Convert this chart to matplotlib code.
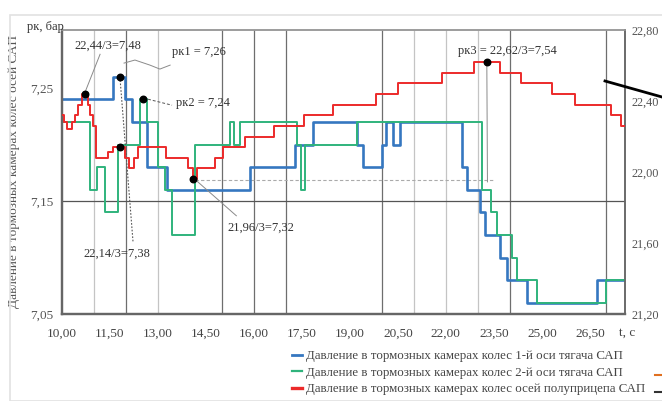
import matplotlib
matplotlib.use("Agg")
import matplotlib.pyplot as plt
from matplotlib.lines import Line2D
from matplotlib.patches import Rectangle

plt.rcParams['font.family'] = ['Liberation Serif', 'DejaVu Serif']

# ---------------- data ----------------
# time, s (step start points) and pressure
blue_t = [10.00, 11.60, 11.97, 12.19, 12.66, 13.28, 15.88, 17.28, 17.84, 19.22, 19.41,
          20.00, 20.12, 20.34, 20.56, 22.50, 22.66, 23.06, 23.22, 23.69, 23.91, 24.53,
          26.72, 27.60]
blue_p = [7.24, 7.26, 7.24, 7.22, 7.18, 7.16, 7.18, 7.20, 7.22, 7.20, 7.18,
          7.20, 7.22, 7.20, 7.22, 7.18, 7.16, 7.14, 7.12, 7.10, 7.08, 7.06,
          7.08, 7.08]

green_t = [10.00, 10.88, 11.09, 11.34, 11.75, 12.44, 12.66, 13.00, 13.22, 13.44, 14.16,
           15.25, 15.38, 15.56, 17.34, 17.47, 17.60, 19.22, 23.13, 23.41, 23.59, 24.06,
           24.22, 24.84, 27.00, 27.60]
green_p = [7.22, 7.16, 7.18, 7.14, 7.20, 7.24, 7.22, 7.18, 7.16, 7.12, 7.20,
           7.22, 7.20, 7.22, 7.20, 7.16, 7.20, 7.22, 7.16, 7.14, 7.12, 7.10,
           7.08, 7.06, 7.08, 7.08]

red_t = [10.00, 10.06, 10.16, 10.31, 10.41, 10.50, 10.63, 10.81, 10.88, 10.97, 11.06,
         11.44, 11.59, 11.97, 12.09, 12.25, 12.38, 13.25, 13.94, 14.09, 14.22, 14.78,
         15.03, 15.72, 16.63, 17.56, 18.47, 19.81, 20.50, 21.88, 22.88, 23.69, 24.34,
         25.31, 26.03, 27.16, 27.47, 27.60]
red_p = [22.32, 22.28, 22.24, 22.28, 22.32, 22.38, 22.44, 22.38, 22.32, 22.26, 22.08,
         22.11, 22.14, 22.08, 22.02, 22.08, 22.14, 22.08, 22.02, 21.96, 22.02, 22.08,
         22.14, 22.20, 22.26, 22.32, 22.38, 22.44, 22.50, 22.56, 22.62, 22.56, 22.50,
         22.44, 22.38, 22.32, 22.26, 22.26]

# marked points
left_dot_t = [11.81, 12.53]
left_dot_p = [7.26, 7.24]
red_dot_t = [10.72, 11.81, 14.09, 23.28]
red_dot_p = [22.44, 22.14, 21.96, 22.62]

x_ticks = [10.0, 11.5, 13.0, 14.5, 16.0, 17.5, 19.0, 20.5, 22.0, 23.5, 25.0, 26.5]
x_tick_labels = ["10,00", "11,50", "13,00", "14,50", "16,00", "17,50", "19,00",
                 "20,50", "22,00", "23,50", "25,00", "26,50"]
left_ticks = [7.05, 7.15, 7.25]
left_tick_labels = ["7,05", "7,15", "7,25"]
right_ticks = [21.2, 21.6, 22.0, 22.4, 22.8]
right_tick_labels = ["21,20", "21,60", "22,00", "22,40", "22,80"]
grid_dark = [12, 15, 16, 17, 20, 24, 27]
grid_light = [11, 13, 21, 22, 23]

labels = ["Давление в тормозных камерах колес 1-й оси тягача САП",
          "Давление в тормозных камерах колес 2-й оси тягача САП",
          "Давление в тормозных камерах колес осей полуприцепа САП"]

c_blue = '#3577c0'
c_green = '#2fb37c'
c_red = '#ec2a2a'
txt = '#333333'

# ---------------- figure ----------------
W, H = 662, 401
fig = plt.figure(figsize=(W / 100, H / 100), dpi=100)
fig.patch.set_facecolor('white')
fig.add_artist(Rectangle((10 / W, 0), 1.2, 1 - 15 / H, transform=fig.transFigure,
                         fill=False, ec='#e2e2e2', lw=1.2))

ax = fig.add_axes([62 / W, 1 - 314 / H, (625 - 62) / W, (314 - 30) / H])
ax.set_xlim(10, 27.6)
ax.set_ylim(7.05, 7.3015)
ax2 = ax.twinx()
ax2.set_ylim(21.2, 22.8)

for g in grid_dark:
    ax.axvline(g, color='#6e6e6e', lw=0.9, zorder=0)
for g in grid_light:
    ax.axvline(g, color='#c4c4c4', lw=0.9, zorder=0)
ax.axhline(7.15, color='#555555', lw=0.9, zorder=0)

ax.plot(green_t, green_p, drawstyle='steps-post', color=c_green, lw=1.4, zorder=3)
ax.plot(blue_t, blue_p, drawstyle='steps-post', color=c_blue, lw=1.9, zorder=2)
ax2.plot(red_t, red_p, drawstyle='steps-post', color=c_red, lw=1.4, zorder=3)

ax.scatter(left_dot_t, left_dot_p, s=22, color='black', zorder=6)
ax2.scatter(red_dot_t, red_dot_p, s=22, color='black', zorder=6)

# ticks
ax.set_xticks(x_ticks)
ax.set_xticklabels(x_tick_labels)
ax.set_yticks(left_ticks)
ax.set_yticklabels(left_tick_labels)
ax2.set_yticks(right_ticks)
ax2.set_yticklabels(right_tick_labels)
ax.tick_params(axis='x', length=0, pad=10, labelsize=9.5, labelcolor='#444444')
ax.tick_params(axis='y', length=0, pad=6, labelsize=9.5, labelcolor='#555555')
ax2.tick_params(axis='y', length=0, pad=5, labelsize=8.8, labelcolor='#555555')

for a in (ax, ax2):
    for s in a.spines.values():
        s.set_color('#666666')
        s.set_linewidth(1.1)
    a.spines['left'].set_linewidth(1.6)
    a.spines['bottom'].set_linewidth(1.6)
    a.spines['top'].set_color('#999999')

ax.set_ylabel("Давление в тормозных камерах колес осей САП", fontsize=9.6,
              color='#555555')
ax.yaxis.set_label_coords(-42 / (625 - 62), 0.5)
fig.text(27 / W, 1 - 27 / H, "рк, бар", fontsize=9, color=txt, va='center', ha='left')
fig.text(627 / W, 1 - 333 / H, "t, c", fontsize=9.5, color='#444444', va='center', ha='center')

# annotations / leader lines (left-axis data coordinates)
ann = dict(fontsize=9, color=txt, zorder=7)
ax.text(11.44, 7.2873, "22,44/3=7,48", ha='center', va='center', **ann)
ax.text(13.44, 7.282, "рк1 = 7,26", ha='left', va='center', **ann)
ax.text(13.56, 7.2367, "рк2 = 7,24", ha='left', va='center', **ann)
ax.text(15.16, 7.1264, "21,96/3=7,32", ha='left', va='center', **ann)
ax.text(10.66, 7.1033, "22,14/3=7,38", ha='left', va='center', **ann)
ax.text(22.375, 7.283, "рк3 = 22,62/3=7,54", ha='left', va='center', **ann)

lc = '#8a8a8a'
ax.plot([10.72, 11.19], [7.2464, 7.280], color=lc, lw=0.7, zorder=5)
ax.plot([11.94, 12.28, 12.75, 13.06, 13.38], [7.2722, 7.2749, 7.2704, 7.2669, 7.2704],
        color=lc, lw=0.7, zorder=5)
ax.plot([12.69, 13.44], [7.2402, 7.2349], color='#555555', lw=0.7, ls=(0, (3, 2)), zorder=5)
ax.plot([14.125, 15.45], [7.170, 7.137], color=lc, lw=0.7, zorder=5)
ax.plot([11.81, 12.22], [7.26, 7.114], color='#555555', lw=0.8, ls=(0, (1.5, 1.5)), zorder=5)
ax.plot([23.28, 23.30], [7.274, 7.167], color=lc, lw=0.7, zorder=5)
ax.plot([14.16, 23.47], [7.169, 7.169], color='#aaaaaa', lw=0.8, ls=(0, (3, 2)), zorder=1)

# arrow-like black line at right, partly outside
fig.add_artist(Line2D([605 / W, 1.0], [1 - 81 / H, 1 - 97 / H], transform=fig.transFigure,
                      color='black', lw=2.0))
fig.add_artist(Line2D([655 / W, 1.0], [1 - 375 / H, 1 - 375 / H], transform=fig.transFigure,
                      color='#e07020', lw=1.5))
fig.add_artist(Line2D([655 / W, 1.0], [1 - 392 / H, 1 - 392 / H], transform=fig.transFigure,
                      color='#333333', lw=1.5))

handles = [Line2D([], [], color=c_blue, lw=2.0),
           Line2D([], [], color=c_green, lw=1.6),
           Line2D([], [], color=c_red, lw=2.4)]
fig.legend(handles, labels, loc='upper left', bbox_to_anchor=(292 / W, 1 - 350 / H),
           frameon=False, fontsize=9.3, handlelength=0.8, handletextpad=0.25,
           labelspacing=0.35, borderpad=0, borderaxespad=0, labelcolor='#444444')

fig.savefig("out.png", dpi=100, facecolor='white')
